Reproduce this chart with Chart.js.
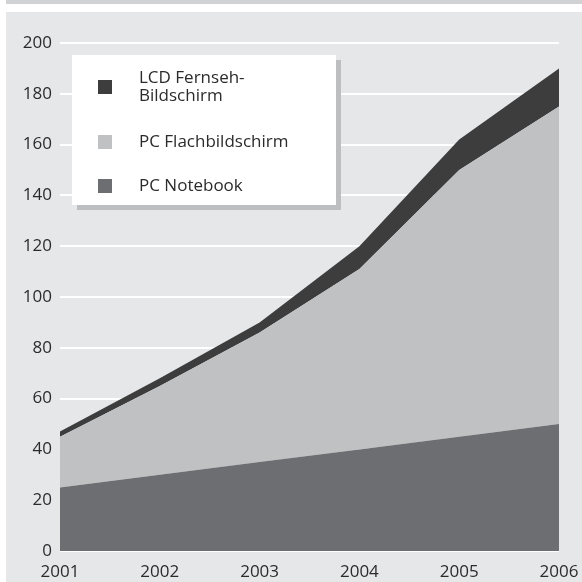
<!DOCTYPE html>
<html lang="de">
<head>
<meta charset="utf-8">
<title>Flachbildschirme</title>
<script src="https://cdn.jsdelivr.net/npm/chart.js@4/dist/chart.umd.min.js"></script>
<style>
    html, body {
        margin: 0;
        padding: 0;
        background: #ffffff;
    }
    #wrap {
        width: 582px;
        height: 582px;
    }
</style>
</head>
<body>
<div id="wrap">
    <canvas id="flachChart" width="582" height="582"></canvas>
</div>
<script>

const jahre = ["2001", "2002", "2003", "2004", "2005", "2006"];

// Anteile je Jahr, gestapelt von unten nach oben
const pcNotebook = [25, 30, 35, 40, 45, 50];
const pcFlach = [20, 35, 51, 71, 105, 125];
const lcdTv = [2, 3, 4, 9, 12, 15];

const yTicks = [0, 20, 40, 60, 80, 100, 120, 140, 160, 180, 200];

const farben = {
    notebook: "#6d6e71",
    flach: "#c0c1c3",
    lcd: "#3d3d3e"
};

const legende = [
    { text: ["LCD Fernseh-", "Bildschirm"], farbe: farben.lcd },
    { text: ["PC Flachbildschirm"], farbe: farben.flach },
    { text: ["PC Notebook"], farbe: farben.notebook }
];

const schrift = "'Open Sans', 'Noto Sans', sans-serif";

// Hintergrund: grauer Streifen oben, weisse Fuge, hellgraue Flaeche
const hintergrund = {
    id: "hintergrund",
    beforeDraw(chart) {
        const ctx = chart.ctx;
        ctx.save();
        ctx.fillStyle = "#ffffff";
        ctx.fillRect(0, 0, chart.width, chart.height);
        ctx.fillStyle = "#d1d2d4";
        ctx.fillRect(6, 0, chart.width - 6, 4);
        ctx.fillStyle = "#e6e7e8";
        ctx.fillRect(6, 12, chart.width - 6, chart.height - 12);
        ctx.restore();
    }
};

// Legende als weisser Kasten mit Schatten oben links
const legendenKasten = {
    id: "legendenKasten",
    afterDraw(chart) {
        const ctx = chart.ctx;
        const box = { x: 72, y: 55, w: 264, h: 150 };

        ctx.save();
        ctx.fillStyle = "#bcbec0";
        ctx.fillRect(box.x + 5, box.y + 5, box.w, box.h);
        ctx.fillStyle = "#ffffff";
        ctx.fillRect(box.x, box.y, box.w, box.h);

        ctx.font = "17px " + schrift;
        ctx.textBaseline = "middle";
        ctx.textAlign = "left";

        const mitten = [87, 142, 186];
        legende.forEach((eintrag, i) => {
            const m = mitten[i];
            ctx.fillStyle = eintrag.farbe;
            ctx.fillRect(98, m - 7, 14, 14);

            ctx.fillStyle = "#2b2b2b";
            const zeilen = eintrag.text;
            const start = m - (zeilen.length - 1) * 9;
            zeilen.forEach((z, k) => {
                ctx.fillText(z, 139, start + k * 18);
            });
        });
        ctx.restore();
    }
};

document.addEventListener("DOMContentLoaded", () => {

    const canvas = document.getElementById("flachChart");

    if(canvas){

        new Chart(canvas, {

            type: "line",

            data: {

                labels: jahre,

                datasets: [
                    {
                        label: "PC Notebook",
                        data: pcNotebook,
                        backgroundColor: farben.notebook,
                        fill: "origin"
                    },
                    {
                        label: "PC Flachbildschirm",
                        data: pcFlach,
                        backgroundColor: farben.flach,
                        fill: "-1"
                    },
                    {
                        label: "LCD Fernseh-Bildschirm",
                        data: lcdTv,
                        backgroundColor: farben.lcd,
                        fill: "-1"
                    }
                ]
            },

            options: {

                responsive: false,
                animation: false,

                elements: {
                    line: { borderWidth: 0, tension: 0 },
                    point: { radius: 0, hoverRadius: 0 }
                },

                layout: {
                    padding: { left: 0, right: 23, top: 43, bottom: 0 }
                },

                scales: {

                    x: {
                        offset: false,
                        grid: { display: false, drawTicks: false },
                        border: { display: false },
                        ticks: {
                            color: "#2b2b2b",
                            font: { family: schrift, size: 17 },
                            padding: 11,
                            maxRotation: 0,
                            autoSkip: false
                        },
                        afterFit(scale) {
                            scale.height = 31;
                            scale.paddingLeft = 0;
                            scale.paddingRight = 0;
                        }
                    },

                    y: {
                        stacked: true,
                        min: 0,
                        max: 200,
                        afterBuildTicks(scale) {
                            scale.ticks = yTicks.map(v => ({ value: v }));
                        },
                        grid: {
                            color: "#ffffff",
                            lineWidth: 2,
                            drawTicks: false
                        },
                        border: { display: false },
                        ticks: {
                            color: "#2b2b2b",
                            font: { family: schrift, size: 17 },
                            padding: 8
                        },
                        afterFit(scale) {
                            scale.width = 60;
                        }
                    }
                },

                plugins: {
                    legend: { display: false },
                    tooltip: { enabled: false }
                }

            },

            plugins: [hintergrund, legendenKasten]

        });

    }

});

</script>
</body>
</html>
